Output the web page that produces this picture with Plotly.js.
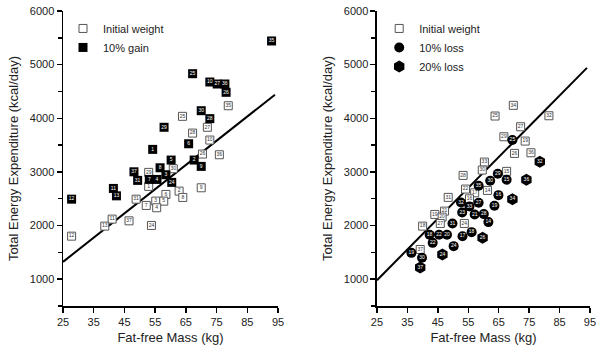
<!DOCTYPE html>
<html><head><meta charset="utf-8">
<script src="https://cdn.plot.ly/plotly-3.0.1.min.js"></script>
<style>html,body{margin:0;padding:0;background:#fff}#chart{width:604px;height:355px}</style>
</head><body><div id="chart"></div>
<script>
// ---- Left panel: weight gain ----
const gainInitX = [78.8,63.9,72.0,67.2,72.8,70.4,75.9,60.9,52.9,52.9,58.5,62.8,70.0,64.0,48.8,55.2,57.8,52.1,55.5,41.0,38.6,46.5,53.8,27.8];
const gainInitY = [4234,4036,3832,3724,3594,3333,3320,3059,2991,2730,2580,2642,2704,2524,2492,2455,2455,2375,2332,2120,1989,2088,2002,1802];
const gainInitId = ["35","25","27","28","10","26","36","30","29","1","6","2","9","8","31","3","5","7","4","11","13","37","24","12"];

const gain10X = [92.9,67.2,72.8,75.2,77.7,78.1,70.0,72.8,57.9,65.9,54.2,60.2,67.7,70.0,56.6,48.1,58.5,49.3,53.1,55.6,60.4,41.4,42.4,27.8];
const gain10Y = [5441,4831,4676,4639,4639,4484,4141,3993,3832,3525,3420,3221,3221,3103,3077,3002,2947,2842,2860,2860,2805,2692,2554,2492];
const gain10Id = ["35","25","10","27","36","26","30","28","29","6","1","5","2","9","8","37","3","31","7","4","24","11","13","12"];

const gainLineX = [25, 94];
const gainLineY = [1323, 4440];

// ---- Right panel: weight loss ----
const lossInitX = [69.8,63.8,81.5,72.2,66.7,73.7,70.2,75.6,60.3,59.6,53.3,67.6,54.1,57.1,61.3,48.4,55.4,47.2,44.0,46.4,45.8,53.7,40.0,39.2];
const lossInitY = [4241,4042,4047,3842,3655,3575,3345,3357,3183,3034,2935,3010,2680,2611,2655,2525,2498,2269,2207,2157,2039,2039,1989,1554];
const lossInitId = ["34","25","32","27","29","19","26","36","33","30","28","15","22","17","14","31","16","21","19","20","27","24","18","37"];

const loss10X = [69.5,64.7,67.6,62.2,58.4,64.9,52.6,58.4,55.4,63.6,53.0,57.1,60.1,61.6,49.8,42.3,45.4,48.0,53.1,56.1,43.3,50.2,36.3,39.8];
const loss10Y = [3594,2965,2853,2834,2741,2567,2431,2424,2357,2368,2245,2207,2213,2064,2039,1827,1827,1827,1802,1877,1677,1616,1491,1398];
const loss10Id = ["25","29","15","30","35","16","32","27","33","19","23","21","28","14","31","18","22","20","17","18","22","24","19","30"];

const loss20X = [78.5,74.1,69.5,59.7,46.5,39.2];
const loss20Y = [3189,2853,2492,1771,1461,1218];
const loss20Id = ["32","36","34","26","24","37"];

const lossLineX = [25, 94];
const lossLineY = [980, 4940];

const FONT = "Liberation Sans, Arial, sans-serif";
const lblFont = (c) => ({family: FONT, size: 5, color: c});

function markerTrace(x, y, name, xa, ya, legend, marker) {
  return {x, y, name, type: "scatter", mode: "markers", xaxis: xa, yaxis: ya, legend, marker, cliponaxis: false};
}
function textTrace(x, y, ids, xa, ya, color) {
  return {x, y, text: ids, type: "scatter", mode: "text", xaxis: xa, yaxis: ya, showlegend: false,
          textposition: "middle center", textfont: lblFont(color), hoverinfo: "skip", cliponaxis: false};
}
const openSq = {symbol: "square", size: 8, color: "#fff", line: {color: "#555", width: 1}};
const blackSq = {symbol: "square", size: 9, color: "#000", line: {color: "#000", width: 0}};
const blackCirc = {symbol: "circle", size: 10, color: "#000", line: {width: 0}};
const blackHex = {symbol: "hexagon", size: 12, color: "#000", line: {width: 0}};

const data = [
  {x: gainLineX, y: gainLineY, type: "scatter", mode: "lines", line: {color: "#000", width: 2}, showlegend: false, xaxis: "x", yaxis: "y", hoverinfo: "skip"},
  markerTrace(gainInitX, gainInitY, "Initial weight", "x", "y", "legend", openSq),
  textTrace(gainInitX, gainInitY, gainInitId, "x", "y", "#333"),
  markerTrace(gain10X, gain10Y, "10% gain", "x", "y", "legend", blackSq),
  textTrace(gain10X, gain10Y, gain10Id, "x", "y", "#fff"),

  {x: lossLineX, y: lossLineY, type: "scatter", mode: "lines", line: {color: "#000", width: 2}, showlegend: false, xaxis: "x2", yaxis: "y2", hoverinfo: "skip"},
  markerTrace(lossInitX, lossInitY, "Initial weight", "x2", "y2", "legend2", openSq),
  textTrace(lossInitX, lossInitY, lossInitId, "x2", "y2", "#333"),
  markerTrace(loss10X, loss10Y, "10% loss", "x2", "y2", "legend2", blackCirc),
  textTrace(loss10X, loss10Y, loss10Id, "x2", "y2", "#fff"),
  markerTrace(loss20X, loss20Y, "20% loss", "x2", "y2", "legend2", blackHex),
  textTrace(loss20X, loss20Y, loss20Id, "x2", "y2", "#fff")
];

const xTicks = [25,35,45,55,65,75,85,95];
const yTicks = [1000,2000,3000,4000,5000,6000];

function xAxis(domain, anchor) {
  return {domain, anchor, range: [25, 95], tickvals: xTicks, ticks: "outside", ticklen: 5, tickwidth: 1.5,
    tickcolor: "#000", showline: true, linecolor: "#000", linewidth: 1.5, showgrid: false, zeroline: false,
    tickfont: {family: FONT, size: 11, color: "#222"},
    title: {text: "Fat-free Mass (kg)", font: {family: FONT, size: 13, color: "#222"}, standoff: 6}};
}
function yAxis(anchor) {
  return {domain: [0, 1], anchor, range: [500, 6000], tickvals: yTicks, ticks: "outside", ticklen: 5, tickwidth: 1.5,
    tickcolor: "#000", showline: true, linecolor: "#000", linewidth: 1.5, showgrid: false, zeroline: false,
    minor: {tickvals: [500,1500,2500,3500,4500,5500], ticks: "outside", ticklen: 4, tickwidth: 1.5, tickcolor: "#000", showgrid: false},
    tickfont: {family: FONT, size: 11, color: "#222"},
    title: {text: "Total Energy Expenditure (kcal/day)", font: {family: FONT, size: 13, color: "#222"}, standoff: 8}};
}

const layout = {
  width: 604, height: 355,
  margin: {l: 63, r: 14, t: 11, b: 49, pad: 0},
  paper_bgcolor: "#fff", plot_bgcolor: "#fff",
  font: {family: FONT, size: 11, color: "#222"},
  xaxis: xAxis([0, 0.408], "y"),
  yaxis: yAxis("x"),
  xaxis2: xAxis([0.5958, 1], "y2"),
  yaxis2: yAxis("x2"),
  legend: {x: 0.0, y: 0.99, xanchor: "left", yanchor: "top", bgcolor: "rgba(0,0,0,0)", font: {family: FONT, size: 11, color: "#222"}, tracegroupgap: 0},
  legend2: {x: 0.6, y: 0.99, xanchor: "left", yanchor: "top", bgcolor: "rgba(0,0,0,0)", font: {family: FONT, size: 11, color: "#222"}, tracegroupgap: 0},
  showlegend: true
};

Plotly.newPlot("chart", data, layout, {displayModeBar: false, staticPlot: true});
</script></body></html>
